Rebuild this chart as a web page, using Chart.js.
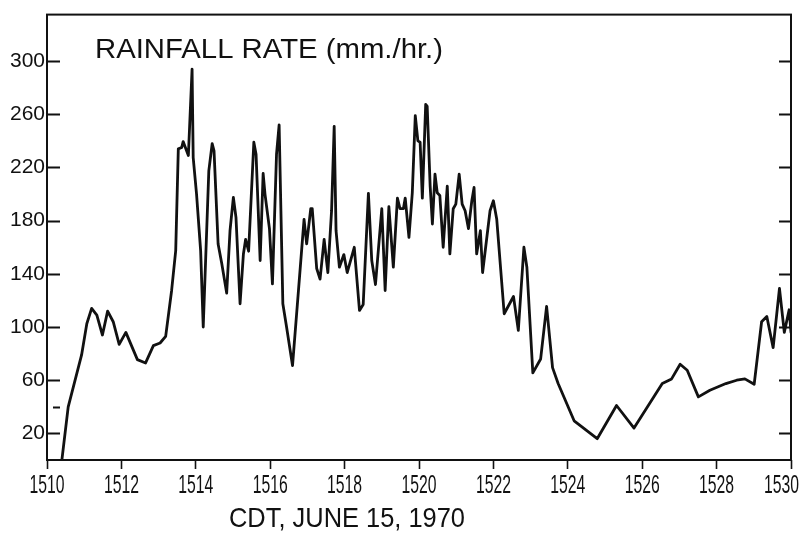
<!DOCTYPE html>
<html><head><meta charset="utf-8">
<script src="https://cdn.jsdelivr.net/npm/chart.js@4.4.1/dist/chart.umd.min.js"></script>
<style>html,body{margin:0;padding:0;background:#fff;}#wrap{width:809px;height:539px;}</style>
</head><body><div id="wrap"><canvas id="c" width="809" height="539"></canvas></div>
<script>
const times = [1510.40,1510.57,1510.93,1511.07,1511.20,1511.34,1511.49,1511.63,1511.78,1511.94,
1512.12,1512.43,1512.65,1512.86,1513.04,1513.19,1513.35,1513.46,1513.53,1513.62,1513.66,1513.80,1513.90,1513.93,
1514.02,1514.13,1514.20,1514.35,1514.44,1514.49,1514.60,1514.70,1514.83,1514.92,
1515.01,1515.08,1515.19,1515.28,1515.34,1515.42,1515.56,1515.62,1515.73,1515.81,1515.86,1515.98,
1516.06,1516.17,1516.24,1516.34,1516.44,1516.60,1516.76,1516.91,1516.98,
1517.09,1517.13,1517.25,1517.34,1517.45,1517.55,1517.65,1517.72,1517.77,1517.86,1517.98,
1518.07,1518.26,1518.40,1518.50,1518.64,1518.73,1518.83,
1519.00,1519.09,1519.19,1519.31,1519.42,1519.49,1519.58,1519.63,1519.73,1519.82,1519.90,1519.97,
1520.03,1520.09,1520.18,1520.22,1520.30,1520.36,1520.43,1520.49,1520.56,1520.65,1520.76,1520.83,1520.92,1520.99,
1521.08,1521.16,1521.24,1521.33,1521.42,1521.48,1521.55,1521.65,1521.71,1521.91,
1522.00,1522.09,1522.29,1522.54,1522.67,1522.82,1522.90,
1523.06,1523.27,1523.43,1523.59,1523.74,1524.17,1524.79,1525.31,1525.78,
1526.54,1526.79,1527.02,1527.21,1527.51,1527.82,1528.25,1528.54,1528.76,
1529.01,1529.21,1529.35,1529.52,1529.69,1529.82,1529.95,1530.00];
const rates = [0,40,79,102.5,114,109,94,112,104,87,
96,75.5,73,86,88,93,127.5,157.5,234,235,239.5,229,294,227.5,
200,157.5,100,217.5,238,232.5,162.5,147.5,125.5,172.5,
197.5,182.5,117.5,155,166,157,239,230,150,215.5,200,174,
132.5,230,252,117.5,100,71,127.5,181,162.5,
189,189,144,136,166,141,187.5,251,172.5,145,154.5,
141,160,112.5,117,200.5,150,132,
189,127.5,190.5,145,197,189,189,197,167.5,201,259,240,
239,197,267.5,266,206,177.5,215,201,199,160,206,155,189,192.5,
215,192.5,187.5,174,195,205,155,172.5,141,187.5,
195,181,110,123,97.5,160,145,
65.5,76,115.5,69.5,57.5,29.5,16,41,24,
57.5,61,72,67.5,47.5,52.5,57.5,60,61,
57,104,108,84.5,129,96,113,96];
const xTickValues = [1510,1512,1514,1516,1518,1520,1522,1524,1526,1528,1530];
const yTickValues = [20,60,100,140,180,220,260,300];
const yMinorTickValues = [40];
const chartTitle = 'RAINFALL RATE (mm./hr.)';
const xAxisTitle = 'CDT, JUNE 15, 1970';

const INK = '#111';
const FONT = "'Liberation Sans',sans-serif";

function fitText(ctx, text, x0, x1, baseline, size) {
  ctx.save();
  ctx.font = size + 'px ' + FONT;
  ctx.fillStyle = INK;
  ctx.textBaseline = 'alphabetic';
  ctx.textAlign = 'left';
  const w = ctx.measureText(text).width;
  ctx.translate(x0, baseline);
  ctx.scale((x1 - x0) / w, 1);
  ctx.fillText(text, 0, 0);
  ctx.restore();
}

const framePlugin = {
  id: 'frame',
  afterDraw(chart) {
    const {ctx, chartArea: a, scales: {x, y}} = chart;
    ctx.save();
    ctx.strokeStyle = INK;
    ctx.lineWidth = 2;
    ctx.strokeRect(a.left, a.top, a.right - a.left, a.bottom - a.top);
    ctx.beginPath();
    yTickValues.forEach(v => {
      const py = Math.round(y.getPixelForValue(v)) + 0.5;
      ctx.moveTo(a.left, py); ctx.lineTo(a.left + 13, py);
      ctx.moveTo(a.right, py); ctx.lineTo(a.right - 12, py);
    });
    yMinorTickValues.forEach(v => {
      const py = Math.round(y.getPixelForValue(v)) + 0.5;
      ctx.moveTo(a.left + 6, py); ctx.lineTo(a.left + 13, py);
    });
    ctx.stroke();
    // x tick labels, condensed lettering
    ctx.font = '25px ' + FONT;
    ctx.fillStyle = INK;
    ctx.textBaseline = 'alphabetic';
    const sx = 0.63;
    x.ticks.forEach(t => {
      const label = String(t.value);
      const w = ctx.measureText(label).width * sx;
      const px = x.getPixelForValue(t.value);
      let left = px - w / 2;
      if (left + w > chart.width - 10) left = chart.width - 10 - w;
      ctx.save();
      ctx.translate(left, a.bottom + 33);
      ctx.scale(sx, 1);
      ctx.fillText(label, 0, 0);
      ctx.restore();
    });
    ctx.restore();
    fitText(ctx, chartTitle, 95, 443, 58, 28);
    fitText(ctx, xAxisTitle, 229, 465, 527, 28);
  }
};

new Chart(document.getElementById('c'), {
  type: 'line',
  data: {
    datasets: [{
      data: times.map((t, i) => ({x: t, y: rates[i]})),
      borderColor: INK,
      borderWidth: 2.8,
      pointRadius: 0,
      tension: 0,
      borderJoinStyle: 'round',
      borderCapStyle: 'round',
      fill: false
    }]
  },
  options: {
    responsive: false,
    animation: false,
    layout: {padding: {top: 13, right: 18, left: 0, bottom: 0}},
    plugins: {legend: {display: false}, tooltip: {enabled: false}, title: {display: false}},
    scales: {
      x: {
        type: 'linear', min: 1510, max: 1530,
        afterBuildTicks: s => { s.ticks = xTickValues.map(v => ({value: v})); },
        afterFit: s => { s.height = 79; s.paddingRight = 0; s.paddingLeft = 0; },
        grid: {drawOnChartArea: false, drawTicks: true, tickLength: 9, tickColor: INK, tickWidth: 1.6},
        border: {display: false},
        ticks: {display: false}
      },
      y: {
        type: 'linear', min: 0, max: 335,
        afterBuildTicks: s => { s.ticks = yTickValues.map(v => ({value: v})); },
        afterFit: s => { s.width = 47; },
        grid: {display: false, drawTicks: false},
        border: {display: false},
        ticks: {color: INK, padding: 2, autoSkip: false,
          font: {family: FONT, size: 21},
          callback: v => String(v)}
      }
    }
  },
  plugins: [framePlugin]
});
</script></body></html>
